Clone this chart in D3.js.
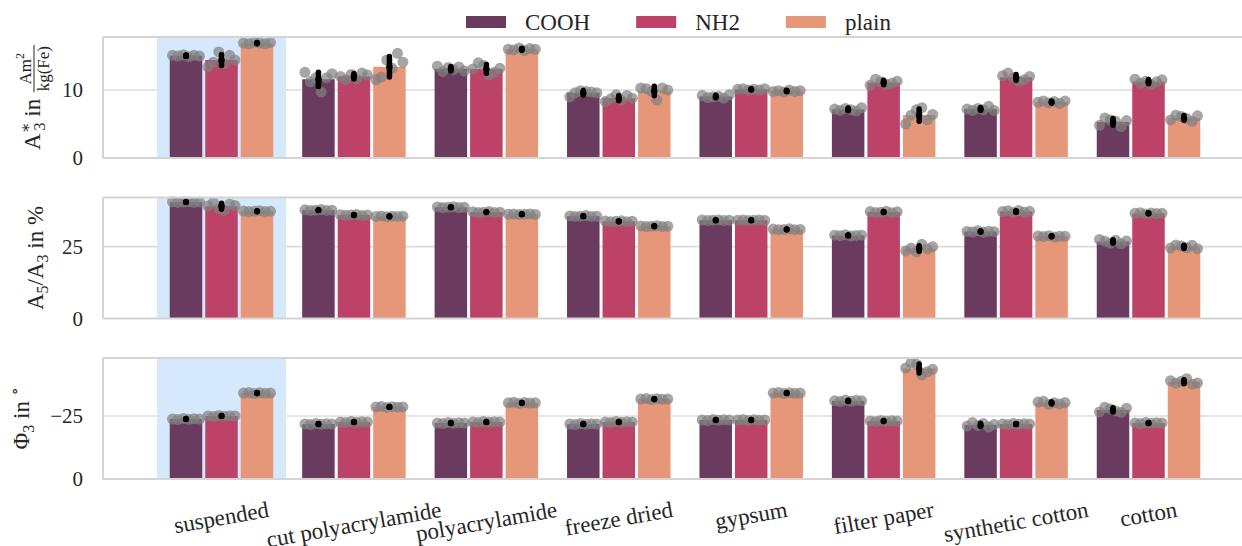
<!DOCTYPE html>
<html>
<head>
<meta charset="utf-8">
<script src="https://cdn.jsdelivr.net/npm/d3@7"></script>
<style>
  body { margin: 0; background: #fff; }
  svg text { font-family: "Liberation Serif", "Times New Roman", "DejaVu Serif", serif; fill: #262626; }
</style>
</head>
<body>
<div id="chart"></div>
<script>
var categories = ["suspended", "cut polyacrylamide", "polyacrylamide", "freeze dried",
                  "gypsum", "filter paper", "synthetic cotton", "cotton"];
var series = ["COOH", "NH2", "plain"];
var colors = ["#6b3a5f", "#bc4267", "#e6977a"];

// replicate measurements: [category][series][replicate]
var a3Values = [
  [[15.1, 15.0, 15.2, 14.9, 15.1, 15.0], [13.4, 14.1, 15.6, 13.9, 15.1, 14.4], [16.9, 16.8, 17.0, 16.9, 16.8, 17.0]],
  [[12.6, 11.2, 11.8, 9.7, 11.8, 12.4], [12.0, 11.5, 12.3, 11.6, 12.5, 12.2], [11.5, 11.9, 14.4, 13.2, 15.4, 14.1]],
  [[13.5, 12.7, 13.3, 13.0, 13.4, 12.8], [13.1, 14.0, 13.6, 12.2, 12.6, 13.2], [16.0, 15.9, 16.2, 15.8, 16.1, 16.0]],
  [[9.0, 9.6, 9.9, 9.8, 9.7, 9.6], [8.3, 8.7, 9.3, 8.5, 9.2, 8.8], [10.3, 10.2, 9.8, 8.5, 10.3, 10.0]],
  [[9.2, 8.9, 9.0, 9.1, 8.8, 9.3], [10.1, 10.2, 10.0, 10.1, 10.0, 10.2], [9.8, 9.9, 9.7, 10.0, 9.8, 9.9]],
  [[7.2, 7.0, 7.3, 7.1, 6.9, 7.4], [10.7, 11.6, 11.2, 10.8, 11.0, 11.3], [5.0, 6.3, 7.1, 7.4, 5.6, 6.4]],
  [[7.2, 7.0, 7.3, 7.1, 7.6, 7.0], [12.1, 12.5, 11.8, 11.3, 11.5, 12.0], [8.2, 8.4, 8.1, 8.3, 8.0, 8.4]],
  [[4.8, 5.9, 5.6, 5.4, 4.6, 5.5], [11.6, 11.0, 11.3, 10.8, 11.2, 11.5], [5.6, 6.3, 6.1, 5.8, 5.4, 6.2]]
];
var ratioValues = [
  [[40.6, 40.4, 40.5, 40.6, 40.4, 40.5], [39.1, 40.4, 38.2, 37.6, 39.8, 39.3], [37.4, 37.2, 37.3, 37.5, 37.2, 37.3]],
  [[37.8, 37.6, 37.7, 37.9, 37.6, 37.7], [36.1, 35.9, 36.0, 36.2, 35.8, 36.0], [35.5, 35.7, 35.4, 35.6, 35.5, 35.6]],
  [[38.8, 38.6, 38.7, 38.9, 38.6, 38.7], [37.1, 36.9, 37.0, 37.2, 36.9, 37.0], [36.3, 36.4, 36.2, 36.3, 36.4, 36.2]],
  [[35.7, 35.5, 35.6, 35.8, 35.5, 35.6], [33.9, 33.7, 33.8, 34.0, 33.7, 33.8], [32.2, 32.0, 32.1, 32.3, 32.0, 32.1]],
  [[34.3, 34.1, 34.2, 34.3, 34.1, 34.2], [34.2, 34.3, 34.1, 34.2, 34.3, 34.1], [31.1, 30.9, 31.0, 31.2, 30.9, 31.0]],
  [[29.0, 28.8, 29.1, 28.7, 28.9, 29.0], [37.2, 36.9, 37.0, 37.3, 36.8, 37.1], [23.5, 24.5, 23.2, 25.8, 24.2, 25.0]],
  [[30.3, 30.1, 30.5, 30.0, 30.4, 30.2], [37.2, 37.5, 36.9, 37.6, 37.0, 37.3], [28.7, 28.5, 28.8, 28.4, 28.6, 28.6]],
  [[27.5, 26.9, 26.2, 27.2, 26.0, 27.0], [36.6, 36.8, 36.4, 36.7, 36.5, 36.6], [24.5, 25.6, 25.2, 24.6, 25.5, 24.3]]
];
var phaseValues = [
  [[-23.8, -23.6, -24.0, -23.7, -23.9, -23.8], [-25.0, -24.8, -25.2, -24.9, -25.1, -25.0], [-34.1, -34.3, -33.9, -34.2, -34.0, -34.1]],
  [[-21.8, -21.6, -22.0, -21.7, -21.9, -21.8], [-22.6, -22.4, -22.8, -22.5, -22.7, -22.6], [-28.6, -28.8, -28.4, -28.7, -28.5, -28.6]],
  [[-22.2, -22.0, -22.4, -22.1, -22.3, -22.2], [-22.6, -22.4, -22.8, -22.5, -22.7, -22.6], [-30.2, -30.4, -30.0, -30.3, -30.1, -30.2]],
  [[-21.8, -21.6, -22.0, -21.7, -21.9, -21.8], [-22.6, -22.4, -22.8, -22.5, -22.7, -22.6], [-31.7, -31.9, -31.5, -31.8, -31.6, -31.7]],
  [[-23.4, -23.2, -23.6, -23.3, -23.5, -23.4], [-23.4, -23.6, -23.2, -23.5, -23.3, -23.4], [-34.1, -34.3, -33.9, -34.2, -34.0, -34.1]],
  [[-31.0, -30.7, -31.3, -30.8, -31.2, -31.0], [-23.0, -22.8, -23.2, -22.9, -23.1, -23.0], [-44.0, -46.0, -45.5, -41.3, -42.5, -43.5]],
  [[-21.0, -22.4, -21.2, -22.0, -20.6, -21.6], [-21.8, -21.6, -22.0, -21.7, -21.9, -21.8], [-30.5, -30.8, -29.6, -30.2, -29.8, -30.3]],
  [[-26.6, -28.5, -27.8, -27.0, -26.4, -28.1], [-22.2, -22.0, -22.4, -22.1, -22.3, -22.2], [-39.0, -38.0, -38.8, -39.8, -37.6, -38.1]]
];
var a3Ticks = [0, 10];
var ratioTicks = [0, 25];
var phaseTicks = [0, -25];

var width = 1242, height = 546;
var plotLeft = 103, plotRight = 1242;
var panelTops = [37, 197.5, 358], panelH = 121;
var serif = "'Liberation Serif', 'Times New Roman', 'DejaVu Serif', serif";

var svg = d3.select("#chart").append("svg")
  .attr("width", width)
  .attr("height", height)
  .attr("font-family", serif);

var xCenter = d3.scaleLinear().domain([0, categories.length - 1]).range([221.5, 1148.5]);
var xSeries = d3.scaleBand().domain(series).range([-53.25, 53.25]);
var bw = xSeries.bandwidth();

var panels = [
  { values: a3Values, ticks: a3Ticks, domain: [0, 17.8], labelRight: 53 },
  { values: ratioValues, ticks: ratioTicks, domain: [0, 42.1], labelRight: 51 },
  { values: phaseValues, ticks: phaseTicks, domain: [0, -48], labelRight: 37 }
];

panels.forEach(function(p, i) {
  var top = panelTops[i], bottom = top + panelH;
  var y = d3.scaleLinear().domain(p.domain).range([bottom, top]);
  var g = svg.append("g");

  // grid lines (under the highlight)
  g.selectAll(".grid")
    .data(p.ticks.filter(function(t) { return t !== 0; }))
    .enter().append("line")
    .attr("x1", plotLeft).attr("x2", plotRight)
    .attr("y1", y).attr("y2", y)
    .attr("stroke", "#dcdcdc")
    .attr("stroke-width", 1.6);

  // highlight for the suspended reference
  g.append("rect")
    .attr("x", xCenter(0) - 64.5)
    .attr("width", 129)
    .attr("y", top)
    .attr("height", panelH)
    .attr("fill", "#d6e8fb");

  var rows = [];
  p.values.forEach(function(grp, ci) {
    grp.forEach(function(reps, si) {
      rows.push({ c: ci, s: si, reps: reps, mean: d3.mean(reps), sd: d3.deviation(reps) });
    });
  });
  function barMid(d) { return xCenter(d.c) + xSeries(series[d.s]) + bw / 2; }

  g.selectAll(".bar")
    .data(rows)
    .enter().append("rect")
    .attr("x", function(d) { return barMid(d) - bw / 2 + 1.5; })
    .attr("width", bw - 3)
    .attr("y", function(d) { return Math.min(y(d.mean), y(0)); })
    .attr("height", function(d) { return Math.abs(y(0) - y(d.mean)); })
    .attr("fill", function(d) { return colors[d.s]; });

  // individual replicates
  rows.forEach(function(d) {
    var xRep = d3.scalePoint().domain(d3.range(d.reps.length)).range([-13.5, 13.5]);
    g.selectAll(null)
      .data(d.reps)
      .enter().append("circle")
      .attr("cx", function(v, k) { return barMid(d) + xRep(k); })
      .attr("cy", function(v) { return y(v); })
      .attr("r", 5.5)
      .attr("fill", "#808080")
      .style("opacity", 0.7);
  });

  // mean +- sd
  g.selectAll(".err")
    .data(rows)
    .enter().append("line")
    .attr("x1", barMid).attr("x2", barMid)
    .attr("y1", function(d) { return y(d.mean - d.sd); })
    .attr("y2", function(d) { return y(d.mean + d.sd); })
    .attr("stroke", "#000")
    .attr("stroke-width", 5.5)
    .attr("stroke-linecap", "round");
  g.selectAll(".mean")
    .data(rows)
    .enter().append("circle")
    .attr("cx", barMid)
    .attr("cy", function(d) { return y(d.mean); })
    .attr("r", 3.2)
    .attr("fill", "#000");

  // spines
  [[plotLeft, top, plotRight, top], [plotLeft, bottom, plotRight, bottom], [plotLeft, top, plotLeft, bottom]]
    .forEach(function(s) {
      g.append("line")
        .attr("x1", s[0]).attr("y1", s[1]).attr("x2", s[2]).attr("y2", s[3])
        .attr("stroke", "#d4d4d4")
        .attr("stroke-width", 2);
    });

  var axis = g.append("g")
    .attr("transform", "translate(" + plotLeft + ",0)")
    .call(d3.axisLeft(y).tickValues(p.ticks).tickSize(0).tickPadding(20));
  axis.select(".domain").remove();
  axis.attr("font-family", serif).attr("font-size", null);
  axis.selectAll("text").style("font-size", "21px").attr("fill", "#262626");

  // y label
  var lab = svg.append("g");
  var t = lab.append("text").style("font-size", "23px");
  if (i === 0) {
    t.append("tspan").text("A");
    t.append("tspan").attr("dy", -9).style("font-size", "16px").text("∗");
    t.append("tspan").attr("dx", -8).attr("dy", 14).style("font-size", "16px").text("3");
    t.append("tspan").attr("dy", -5).text(" in");
    var bb = t.node().getBBox();
    var fx = bb.x + bb.width + 6;
    var num = lab.append("text").attr("y", -9.5).style("font-size", "17px");
    num.append("tspan").text("Am");
    num.append("tspan").attr("dy", -7).style("font-size", "12px").text("2");
    var den = lab.append("text").attr("y", 9).style("font-size", "17px").text("kg(Fe)");
    var wf = Math.max(num.node().getBBox().width, den.node().getBBox().width) + 2;
    num.attr("x", fx + wf / 2).attr("text-anchor", "middle");
    den.attr("x", fx + wf / 2).attr("text-anchor", "middle");
    lab.append("line").attr("x1", fx).attr("x2", fx + wf).attr("y1", -6).attr("y2", -6)
      .attr("stroke", "#262626").attr("stroke-width", 1);
  } else if (i === 1) {
    t.append("tspan").text("A");
    t.append("tspan").attr("dy", 5).style("font-size", "16px").text("5");
    t.append("tspan").attr("dy", -5).text("/A");
    t.append("tspan").attr("dy", 5).style("font-size", "16px").text("3");
    t.append("tspan").attr("dy", -5).text(" in %");
  } else {
    t.append("tspan").text("Φ");
    t.append("tspan").attr("dy", 5).style("font-size", "16px").text("3");
    t.append("tspan").attr("dy", -5).text(" in ");
    t.append("tspan").attr("dy", -9).style("font-size", "16px").text("∘");
  }
  var lb = lab.node().getBBox();
  var tx = p.labelRight - lb.y - lb.height;
  var ty = (top + bottom) / 2 + lb.x + lb.width / 2;
  lab.attr("transform", "translate(" + tx + "," + ty + ") rotate(-90)");
});

// category labels, rotated 10 degrees, top of their boxes aligned
var ang = 10 * Math.PI / 180;
categories.forEach(function(c, ci) {
  var cx = xCenter(ci);
  var t = svg.append("text")
    .attr("text-anchor", "middle")
    .style("font-size", "23px")
    .attr("dy", "0.32em")
    .text(c);
  var w = t.node().getComputedTextLength();
  var h = 23 * 1.1;
  var cy = 497 + (w * Math.sin(ang) + h * Math.cos(ang)) / 2;
  t.attr("x", cx).attr("y", cy)
    .attr("transform", "rotate(-10," + cx + "," + cy + ")");
});

// legend
var lx = 466;
series.forEach(function(s, si) {
  svg.append("rect")
    .attr("x", lx).attr("y", 16)
    .attr("width", 40).attr("height", 12)
    .attr("fill", colors[si]);
  var t = svg.append("text")
    .attr("x", lx + 59).attr("y", 30)
    .style("font-size", "23px")
    .text(s);
  lx = lx + 59 + t.node().getComputedTextLength() + 46;
});
</script>
</body>
</html>
